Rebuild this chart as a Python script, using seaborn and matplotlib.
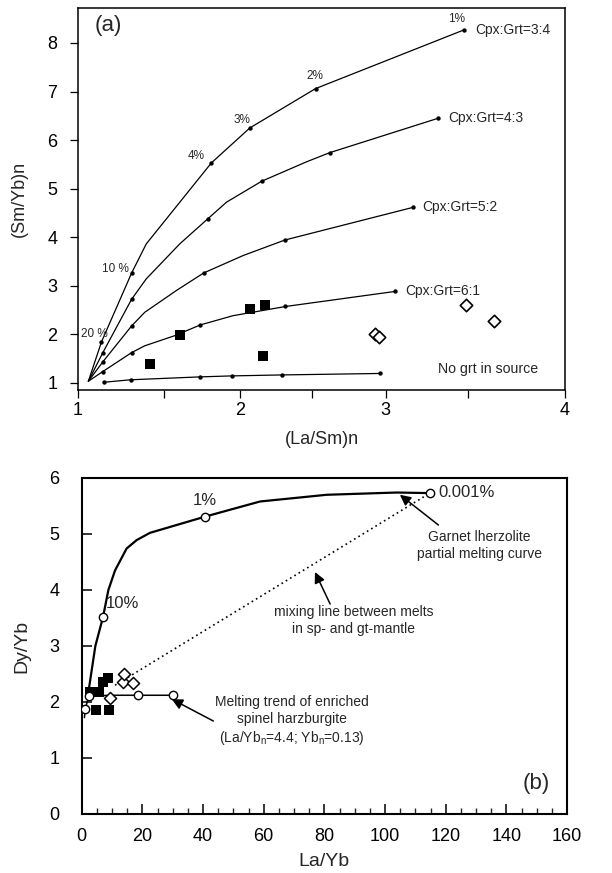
import numpy as np
import pandas as pd
import matplotlib
matplotlib.use("Agg")
import matplotlib.pyplot as plt
from matplotlib.ticker import FixedLocator, FixedFormatter, MultipleLocator, NullFormatter
import seaborn as sns

# ---------------- (a) (La/Sm)n vs (Sm/Yb)n ----------------
# x-axis tick values and their relative positions along the axis
lasm_ticks = [1.0, 1.5, 2.0, 2.5, 3.0, 3.5, 4.0]
lasm_tick_pos = [0.0, 0.177, 0.332, 0.480, 0.632, 0.801, 1.0]

# melting curves for different Cpx:Grt ratios (vertices; dot = marked melt step)
c34_x = [1.06, 1.136, 1.311, 1.396, 1.813, 2.071, 2.526, 3.476]
c34_y = [1.03, 1.84, 3.26, 3.86, 5.53, 6.25, 7.06, 8.27]
c34_dot = [0, 1, 1, 0, 1, 1, 1, 1]

c43_x = [1.06, 1.144, 1.311, 1.396, 1.603, 1.790, 1.913, 2.152, 2.463, 2.622, 3.320]
c43_y = [1.03, 1.62, 2.72, 3.14, 3.86, 4.38, 4.72, 5.15, 5.55, 5.74, 6.45]
c43_dot = [0, 1, 1, 0, 0, 1, 0, 1, 0, 1, 1]

c52_x = [1.06, 1.144, 1.311, 1.387, 1.581, 1.761, 2.024, 2.314, 3.163]
c52_y = [1.03, 1.43, 2.17, 2.45, 2.90, 3.26, 3.62, 3.94, 4.61]
c52_dot = [0, 1, 1, 0, 0, 1, 0, 1, 1]

c61_x = [1.06, 1.144, 1.311, 1.387, 1.571, 1.739, 1.955, 2.318, 3.056]
c61_y = [1.03, 1.23, 1.62, 1.76, 1.97, 2.19, 2.38, 2.57, 2.88]
c61_dot = [0, 1, 1, 0, 0, 1, 0, 1, 1]

nogrt_x = [1.153, 1.305, 1.739, 1.948, 2.294, 2.960]
nogrt_y = [1.01, 1.06, 1.12, 1.14, 1.16, 1.19]
nogrt_dot = [1, 1, 1, 1, 1, 1]

curve_names = ["Cpx:Grt=3:4", "Cpx:Grt=4:3", "Cpx:Grt=5:2", "Cpx:Grt=6:1", "No grt in source"]

# samples
sq_a_x = [1.415, 1.606, 2.071, 2.176, 2.162]
sq_a_y = [1.39, 1.99, 2.52, 2.61, 1.55]
dia_a_x = [2.928, 2.954, 3.488, 3.636]
dia_a_y = [2.01, 1.95, 2.60, 2.28]

# melt-fraction labels on the 3:4 curve
pct_a_text = ["1%", "2%", "3%", "4%"]
pct_a_x = [3.429, 2.520, 2.013, 1.713]
pct_a_y = [8.49, 7.32, 6.42, 5.67]

# ---------------- (b) La/Yb vs Dy/Yb ----------------
gt_x = [2.0, 4.5, 7.0, 8.8, 11.0, 14.8, 18.1, 22.5, 40.7, 58.8, 80.8, 103.8, 114.8]
gt_y = [2.10, 3.00, 3.51, 4.00, 4.35, 4.74, 4.89, 5.02, 5.31, 5.58, 5.70, 5.74, 5.73]
gt_dot = [0, 0, 1, 0, 0, 0, 0, 0, 1, 0, 0, 0, 1]

hz_x = [0.9, 1.2, 2.3, 9.0, 18.6, 30.0]
hz_y = [1.72, 1.88, 2.10, 2.12, 2.12, 2.12]
hz_dot = [0, 1, 1, 0, 1, 1]

mix_x = [11.0, 114.8]
mix_y = [2.30, 5.73]

sq_b_x = [2.8, 5.8, 4.7, 9.0, 7.1, 8.6]
sq_b_y = [2.17, 2.17, 1.86, 1.86, 2.36, 2.42]
dia_b_x = [9.2, 13.5, 14.0, 16.8]
dia_b_y = [2.07, 2.36, 2.50, 2.33]

# ---------------- style ----------------
sns.set_style("ticks")
plt.rcParams["font.family"] = ["Liberation Sans", "DejaVu Sans"]
plt.rcParams["mathtext.fontset"] = "custom"
plt.rcParams["mathtext.rm"] = "Liberation Sans"
plt.rcParams["mathtext.it"] = "Liberation Sans:italic"

fig = plt.figure(figsize=(6.12, 8.73), dpi=100)
ax_a = fig.add_axes([0.1275, 0.5533, 0.7955, 0.4375])
ax_b = fig.add_axes([0.1335, 0.0676, 0.793, 0.3849])


def warp(x):
    return np.interp(x, lasm_ticks, lasm_tick_pos)


def unwarp(p):
    return np.interp(p, lasm_tick_pos, lasm_ticks)


ax_a.set_xscale("function", functions=(warp, unwarp))

frames = []
for name, xs, ys, ds in zip(curve_names,
                            [c34_x, c43_x, c52_x, c61_x, nogrt_x],
                            [c34_y, c43_y, c52_y, c61_y, nogrt_y],
                            [c34_dot, c43_dot, c52_dot, c61_dot, nogrt_dot]):
    frames.append(pd.DataFrame({"curve": name, "x": xs, "y": ys, "dot": ds}))
curves_a = pd.concat(frames, ignore_index=True)

sns.lineplot(data=curves_a, x="x", y="y", units="curve", estimator=None,
             sort=False, color="black", lw=0.9, ax=ax_a, legend=False)
dots_a = curves_a[curves_a["dot"] == 1]
sns.scatterplot(data=dots_a, x="x", y="y", color="black", s=10,
                edgecolor="black", linewidth=0, ax=ax_a, legend=False)
sns.scatterplot(x=sq_a_x, y=sq_a_y, marker="s", s=62, color="black",
                edgecolor="black", linewidth=0, ax=ax_a, legend=False)
sns.scatterplot(x=dia_a_x, y=dia_a_y, marker="D", s=40, facecolor="white",
                edgecolor="black", linewidth=1.2, ax=ax_a, legend=False)

# curve labels at the end of each curve
for name, xs, ys in zip(curve_names[:4], [c34_x, c43_x, c52_x, c61_x],
                        [c34_y, c43_y, c52_y, c61_y]):
    ax_a.text(xs[-1] + 0.06, ys[-1], name, fontsize=10, ha="left", va="center")
ax_a.text(3.32, 1.28, curve_names[4], fontsize=10.2, ha="left", va="center")

for t, x, y in zip(pct_a_text, pct_a_x, pct_a_y):
    ax_a.text(x, y, t, fontsize=8.5, ha="center", va="center")
ax_a.text(1.295, 3.34, "10 %", fontsize=8.5, ha="right", va="center")
ax_a.text(1.02, 2.0, "20 %", fontsize=8.5, ha="left", va="center")
ax_a.text(1.175, 8.37, "(a)", fontsize=16, ha="center", va="center")

ax_a.set_xlim(1, 4)
ax_a.set_ylim(0.85, 8.72)
ax_a.xaxis.set_major_locator(FixedLocator([1, 2, 3, 4]))
ax_a.xaxis.set_major_formatter(FixedFormatter(["1", "2", "3", "4"]))
ax_a.xaxis.set_minor_locator(FixedLocator([1.5, 2.5, 3.5]))
ax_a.xaxis.set_minor_formatter(NullFormatter())
ax_a.yaxis.set_major_locator(FixedLocator(range(1, 9)))
ax_a.tick_params(axis="both", which="both", direction="out", length=6,
                 width=0.9, labelsize=13, colors="black")
ax_a.tick_params(axis="y", pad=9)
ax_a.tick_params(axis="x", pad=3)
ax_a.set_xlabel("(La/Sm)n", fontsize=13, labelpad=8)
ax_a.set_ylabel("(Sm/Yb)n", fontsize=13, labelpad=14)
for sp in ax_a.spines.values():
    sp.set_visible(True)
    sp.set_linewidth(1.1)
    sp.set_color("black")

# ---------------- (b) ----------------
gt_df = pd.DataFrame({"x": gt_x, "y": gt_y, "dot": gt_dot})
hz_df = pd.DataFrame({"x": hz_x, "y": hz_y, "dot": hz_dot})
sns.lineplot(x=mix_x, y=mix_y, color="black", lw=1.2, linestyle=(0, (1, 2)),
             ax=ax_b, legend=False)
sns.lineplot(data=gt_df, x="x", y="y", sort=False, estimator=None,
             color="black", lw=1.6, ax=ax_b, legend=False)
sns.lineplot(data=hz_df, x="x", y="y", sort=False, estimator=None,
             color="black", lw=1.1, ax=ax_b, legend=False)
sns.scatterplot(x=sq_b_x, y=sq_b_y, marker="s", s=58, color="black",
                edgecolor="black", linewidth=0, ax=ax_b, legend=False, zorder=3)
sns.scatterplot(x=dia_b_x, y=dia_b_y, marker="D", s=38, facecolor="white",
                edgecolor="black", linewidth=1.1, ax=ax_b, legend=False, zorder=4)
sns.scatterplot(data=gt_df[gt_df["dot"] == 1], x="x", y="y", marker="o", s=36,
                facecolor="white", edgecolor="black", linewidth=1.0, ax=ax_b,
                legend=False, zorder=5)
sns.scatterplot(data=hz_df[hz_df["dot"] == 1], x="x", y="y", marker="o", s=36,
                facecolor="white", edgecolor="black", linewidth=1.0, ax=ax_b,
                legend=False, zorder=5)

ax_b.text(40.7, 5.60, "1%", fontsize=12, ha="center", va="center")
ax_b.text(8.0, 3.75, "10%", fontsize=12, ha="left", va="center")
ax_b.text(117.5, 5.74, "0.001%", fontsize=12, ha="left", va="center")
ax_b.text(131.0, 4.80, "Garnet lherzolite\npartial melting curve", fontsize=10,
          ha="center", va="center", linespacing=1.25)
ax_b.annotate("", xy=(104.9, 5.70), xytext=(117.6, 5.16),
              arrowprops=dict(arrowstyle="-|>", color="black", lw=1.1,
                              mutation_scale=16, shrinkA=0, shrinkB=0))
ax_b.text(89.6, 3.46, "mixing line between melts\nin sp- and gt-mantle",
          fontsize=10, ha="center", va="center", linespacing=1.25)
ax_b.annotate("", xy=(76.9, 4.32), xytext=(81.9, 3.75),
              arrowprops=dict(arrowstyle="-|>", color="black", lw=1.1,
                              mutation_scale=16, shrinkA=0, shrinkB=0))
ax_b.text(69.2, 1.66,
          "Melting trend of enriched\nspinel harzburgite\n"
          r"(La/Yb$_\mathrm{n}$=4.4; Yb$_\mathrm{n}$=0.13)",
          fontsize=10, ha="center", va="center", linespacing=1.25)
ax_b.annotate("", xy=(29.7, 2.05), xytext=(43.4, 1.66),
              arrowprops=dict(arrowstyle="-|>", color="black", lw=1.1,
                              mutation_scale=16, shrinkA=0, shrinkB=0))
ax_b.text(150, 0.55, "(b)", fontsize=16, ha="center", va="center")

ax_b.set_xlim(0, 160)
ax_b.set_ylim(0, 6)
ax_b.xaxis.set_major_locator(MultipleLocator(20))
ax_b.xaxis.set_minor_locator(MultipleLocator(5))
ax_b.yaxis.set_major_locator(MultipleLocator(1))
ax_b.tick_params(axis="both", which="major", direction="in", length=7,
                 width=1.1, labelsize=13, colors="black")
ax_b.tick_params(axis="x", which="minor", direction="in", length=4.5, width=1.0)
ax_b.tick_params(axis="y", pad=16)
ax_b.tick_params(axis="x", pad=10)
ax_b.set_xlabel("La/Yb", fontsize=14, labelpad=6)
ax_b.set_ylabel("Dy/Yb", fontsize=14, labelpad=14)
for sp in ax_b.spines.values():
    sp.set_visible(True)
    sp.set_linewidth(1.5)
    sp.set_color("black")

fig.savefig("out.png", dpi=100, facecolor="white")
